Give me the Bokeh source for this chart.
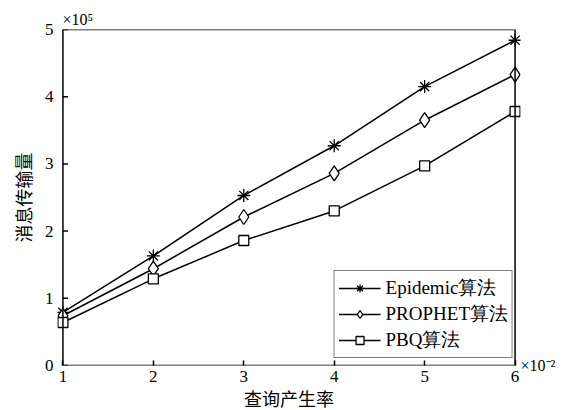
from bokeh.plotting import figure
from bokeh.models import Range1d, FixedTicker, BoxAnnotation, LinearAxis, Title
from bokeh.embed import file_html
from bokeh.resources import INLINE

x = [1, 2, 3, 4, 5, 6]
epidemic = [0.79, 1.63, 2.53, 3.27, 4.15, 4.84]
prophet = [0.74, 1.44, 2.21, 2.86, 3.65, 4.33]
pbq = [0.64, 1.29, 1.86, 2.30, 2.97, 3.78]
names = ["Epidemic算法", "PROPHET算法", "PBQ算法"]
x_ticks = [1, 2, 3, 4, 5, 6]
y_ticks = [0, 1, 2, 3, 4, 5]
y_scale_text = "×10⁵"
x_scale_text = "×10⁻²"

FONT = "'Liberation Serif', 'Noto Sans CJK SC', serif"
CJK = "'Noto Sans CJK SC', sans-serif"

pad = 0.06
p = figure(width=566, height=406, output_backend="svg", toolbar_location=None,
           x_range=Range1d(x_ticks[0] - pad, x_ticks[-1] + pad),
           y_range=Range1d(y_ticks[0], y_ticks[-1]),
           min_border_left=57, min_border_right=46, min_border_top=29, min_border_bottom=41)
p.frame_width = 463
p.frame_height = 336
p.background_fill_color = "white"
p.border_fill_color = "white"
p.grid.visible = False
p.outline_line_color = None

for ax in (p.xaxis[0], p.yaxis[0]):
    ax.axis_line_color = None
    ax.major_tick_out = 0
    ax.major_tick_line_width = 1.5
    ax.minor_tick_line_color = None
    ax.major_label_text_font = FONT
    ax.major_label_text_font_size = "17px"
    ax.major_label_text_color = "black"
    ax.axis_label_text_font = CJK
    ax.axis_label_text_font_size = "18px"
    ax.axis_label_text_font_style = "normal"
    ax.axis_label_text_color = "black"

p.xaxis.major_tick_in = 5
p.yaxis.major_tick_in = 0
p.xaxis.ticker = FixedTicker(ticks=x_ticks)
p.yaxis.ticker = FixedTicker(ticks=y_ticks)
p.xaxis.major_label_standoff = 5
p.yaxis.major_label_standoff = 4
p.xaxis.axis_label = "查询产生率"
p.yaxis.axis_label = "消息传输量"
p.xaxis.axis_label_standoff = 0
p.yaxis.axis_label_standoff = 6

# x scale factor: a label-only axis on the right, at the bottom of the box
rax = LinearAxis(ticker=FixedTicker(ticks=[y_ticks[0]]),
                 major_label_overrides={y_ticks[0]: x_scale_text})
rax.axis_line_color = None
rax.major_tick_line_color = None
rax.major_tick_in = 0
rax.major_tick_out = 0
rax.minor_tick_line_color = None
rax.major_label_standoff = 0
rax.major_label_text_font = FONT
rax.major_label_text_font_size = "16px"
rax.major_label_text_color = "black"
p.add_layout(rax, "right")

# y scale factor as a left-aligned title
t = Title(text=y_scale_text, align="left", offset=5, standoff=3,
          text_font=FONT, text_font_size="16px", text_font_style="normal", text_color="black")
p.add_layout(t, "above")

# inward y ticks drawn at the left box edge
p.ray(x=[x_ticks[0]] * len(y_ticks), y=y_ticks, length=5, length_units="screen", angle=0,
      line_color="black", line_width=1.5)

box = BoxAnnotation(left=x_ticks[0], right=x_ticks[-1], bottom=y_ticks[0], top=y_ticks[-1],
                    fill_alpha=0, line_color="black", line_width=1.5, line_alpha=1)
p.add_layout(box)

series = [
    (epidemic, "asterisk", 13),
    (prophet, "diamond", 15),
    (pbq, "square", 10),
]
for (ys, marker, size), name in zip(series, names):
    p.line(x, ys, line_color="black", line_width=1.5, legend_label=name)
    p.scatter(x, ys, marker=marker, size=size, line_color="black", line_width=1.3,
              fill_color="white", legend_label=name)

leg = p.legend[0]
leg.location = "bottom_right"
leg.margin = 7
leg.padding = 4
leg.spacing = 0
leg.glyph_width = 42
leg.glyph_height = 20
leg.label_height = 20
leg.label_standoff = 5
leg.label_text_font = "Liberation Serif"
leg.label_text_font_size = "19px"
leg.label_text_line_height = 1.0
leg.label_text_color = "black"
leg.border_line_color = "black"
leg.border_line_width = 1.5
leg.background_fill_alpha = 1

open("out.html", "w").write(file_html(p, INLINE))
